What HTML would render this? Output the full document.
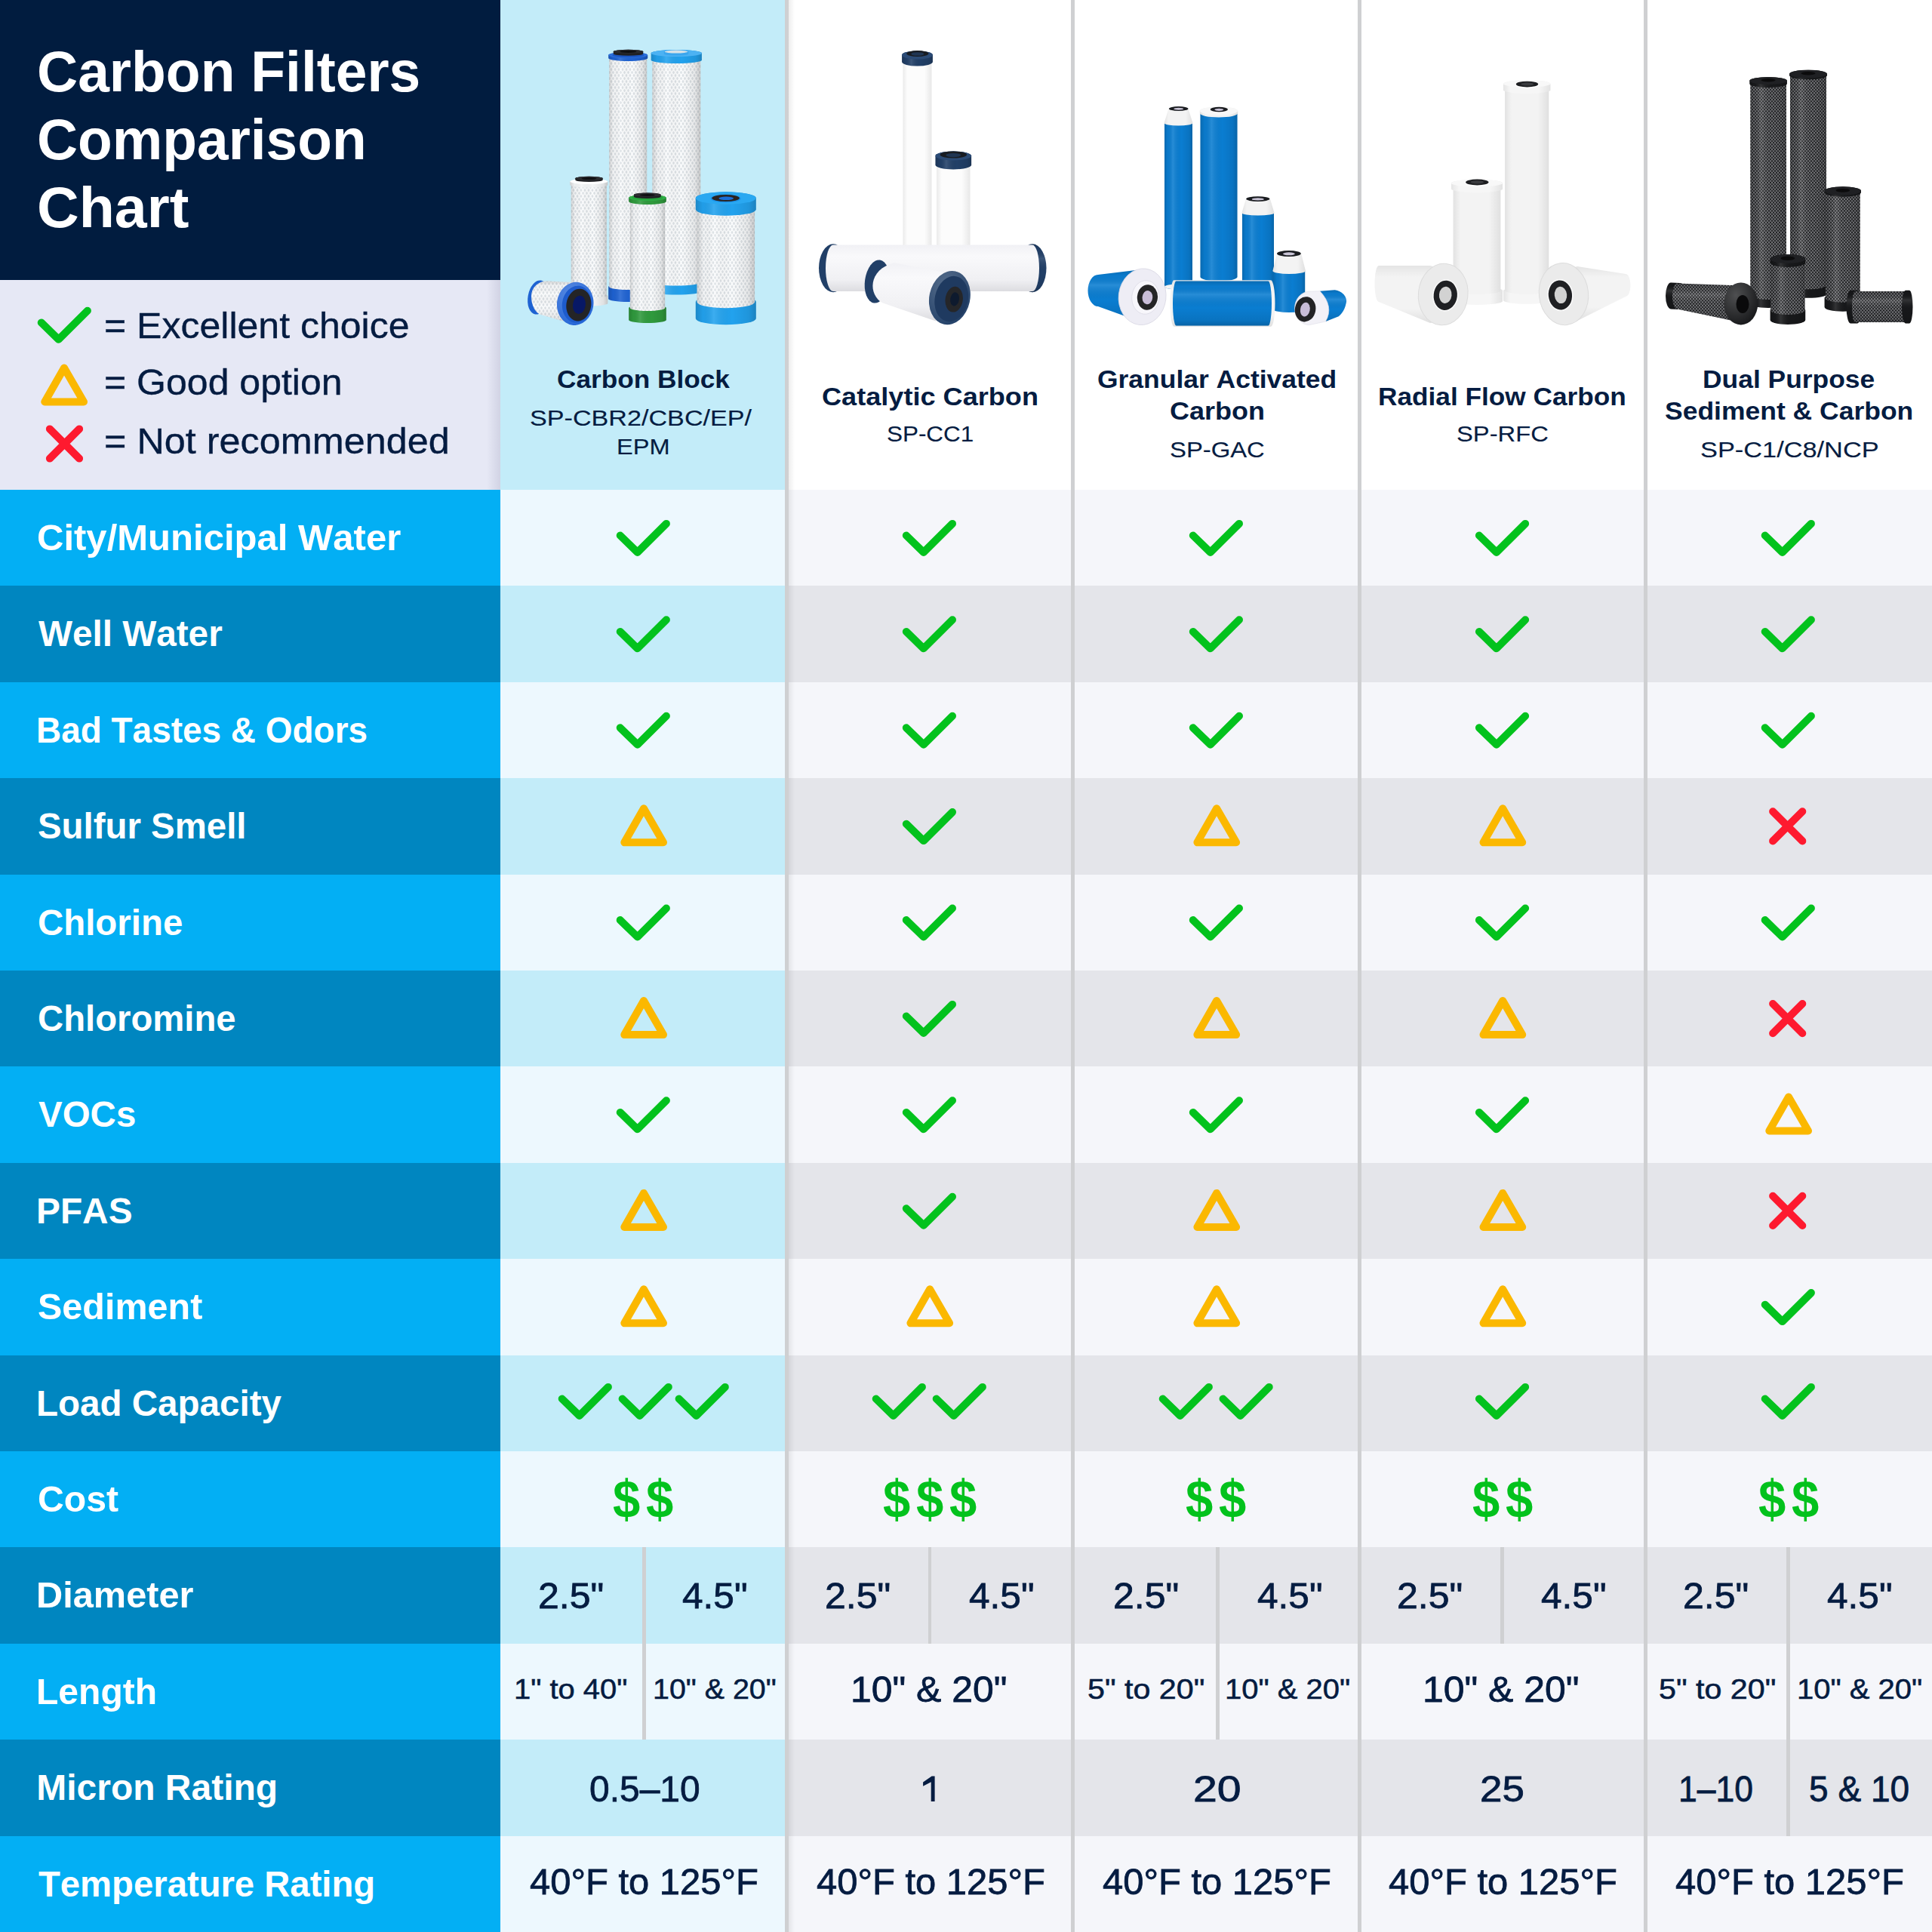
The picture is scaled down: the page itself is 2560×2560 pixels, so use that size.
<!DOCTYPE html>
<html><head><meta charset="utf-8"><title>Carbon Filters Comparison Chart</title>
<style>
html,body{margin:0;padding:0;}
body{width:2560px;height:2560px;position:relative;overflow:hidden;background:#fff;font-family:"Liberation Sans",sans-serif;}
.t{position:absolute;white-space:nowrap;font-kerning:none;font-variant-ligatures:none;}
</style></head><body>
<div style="position:absolute;left:0.00px;top:0.00px;width:663.00px;height:371.00px;background:#011c3f;"></div>
<div style="position:absolute;left:0.00px;top:371.00px;width:663.00px;height:278.00px;background:#e6e8f5;"></div>
<div style="position:absolute;left:663.00px;top:0.00px;width:1897.00px;height:649.00px;background:#ffffff;"></div>
<div style="position:absolute;left:663.00px;top:0.00px;width:379.40px;height:649.00px;background:#c3ecf9;"></div>
<div style="position:absolute;left:0.00px;top:649.00px;width:663.00px;height:127.40px;background:#03aff4;"></div>
<div style="position:absolute;left:663.00px;top:649.00px;width:379.40px;height:127.40px;background:#edf8fe;"></div>
<div style="position:absolute;left:1042.40px;top:649.00px;width:1517.60px;height:127.40px;background:#f5f6fa;"></div>
<div style="position:absolute;left:0.00px;top:776.40px;width:663.00px;height:127.40px;background:#0086c0;"></div>
<div style="position:absolute;left:663.00px;top:776.40px;width:379.40px;height:127.40px;background:#c3ecf9;"></div>
<div style="position:absolute;left:1042.40px;top:776.40px;width:1517.60px;height:127.40px;background:#e4e5ea;"></div>
<div style="position:absolute;left:0.00px;top:903.80px;width:663.00px;height:127.40px;background:#03aff4;"></div>
<div style="position:absolute;left:663.00px;top:903.80px;width:379.40px;height:127.40px;background:#edf8fe;"></div>
<div style="position:absolute;left:1042.40px;top:903.80px;width:1517.60px;height:127.40px;background:#f5f6fa;"></div>
<div style="position:absolute;left:0.00px;top:1031.20px;width:663.00px;height:127.40px;background:#0086c0;"></div>
<div style="position:absolute;left:663.00px;top:1031.20px;width:379.40px;height:127.40px;background:#c3ecf9;"></div>
<div style="position:absolute;left:1042.40px;top:1031.20px;width:1517.60px;height:127.40px;background:#e4e5ea;"></div>
<div style="position:absolute;left:0.00px;top:1158.60px;width:663.00px;height:127.40px;background:#03aff4;"></div>
<div style="position:absolute;left:663.00px;top:1158.60px;width:379.40px;height:127.40px;background:#edf8fe;"></div>
<div style="position:absolute;left:1042.40px;top:1158.60px;width:1517.60px;height:127.40px;background:#f5f6fa;"></div>
<div style="position:absolute;left:0.00px;top:1286.00px;width:663.00px;height:127.40px;background:#0086c0;"></div>
<div style="position:absolute;left:663.00px;top:1286.00px;width:379.40px;height:127.40px;background:#c3ecf9;"></div>
<div style="position:absolute;left:1042.40px;top:1286.00px;width:1517.60px;height:127.40px;background:#e4e5ea;"></div>
<div style="position:absolute;left:0.00px;top:1413.40px;width:663.00px;height:127.40px;background:#03aff4;"></div>
<div style="position:absolute;left:663.00px;top:1413.40px;width:379.40px;height:127.40px;background:#edf8fe;"></div>
<div style="position:absolute;left:1042.40px;top:1413.40px;width:1517.60px;height:127.40px;background:#f5f6fa;"></div>
<div style="position:absolute;left:0.00px;top:1540.80px;width:663.00px;height:127.40px;background:#0086c0;"></div>
<div style="position:absolute;left:663.00px;top:1540.80px;width:379.40px;height:127.40px;background:#c3ecf9;"></div>
<div style="position:absolute;left:1042.40px;top:1540.80px;width:1517.60px;height:127.40px;background:#e4e5ea;"></div>
<div style="position:absolute;left:0.00px;top:1668.20px;width:663.00px;height:127.40px;background:#03aff4;"></div>
<div style="position:absolute;left:663.00px;top:1668.20px;width:379.40px;height:127.40px;background:#edf8fe;"></div>
<div style="position:absolute;left:1042.40px;top:1668.20px;width:1517.60px;height:127.40px;background:#f5f6fa;"></div>
<div style="position:absolute;left:0.00px;top:1795.60px;width:663.00px;height:127.40px;background:#0086c0;"></div>
<div style="position:absolute;left:663.00px;top:1795.60px;width:379.40px;height:127.40px;background:#c3ecf9;"></div>
<div style="position:absolute;left:1042.40px;top:1795.60px;width:1517.60px;height:127.40px;background:#e4e5ea;"></div>
<div style="position:absolute;left:0.00px;top:1923.00px;width:663.00px;height:127.40px;background:#03aff4;"></div>
<div style="position:absolute;left:663.00px;top:1923.00px;width:379.40px;height:127.40px;background:#edf8fe;"></div>
<div style="position:absolute;left:1042.40px;top:1923.00px;width:1517.60px;height:127.40px;background:#f5f6fa;"></div>
<div style="position:absolute;left:0.00px;top:2050.40px;width:663.00px;height:127.40px;background:#0086c0;"></div>
<div style="position:absolute;left:663.00px;top:2050.40px;width:379.40px;height:127.40px;background:#c3ecf9;"></div>
<div style="position:absolute;left:1042.40px;top:2050.40px;width:1517.60px;height:127.40px;background:#e4e5ea;"></div>
<div style="position:absolute;left:0.00px;top:2177.80px;width:663.00px;height:127.40px;background:#03aff4;"></div>
<div style="position:absolute;left:663.00px;top:2177.80px;width:379.40px;height:127.40px;background:#edf8fe;"></div>
<div style="position:absolute;left:1042.40px;top:2177.80px;width:1517.60px;height:127.40px;background:#f5f6fa;"></div>
<div style="position:absolute;left:0.00px;top:2305.20px;width:663.00px;height:127.40px;background:#0086c0;"></div>
<div style="position:absolute;left:663.00px;top:2305.20px;width:379.40px;height:127.40px;background:#c3ecf9;"></div>
<div style="position:absolute;left:1042.40px;top:2305.20px;width:1517.60px;height:127.40px;background:#e4e5ea;"></div>
<div style="position:absolute;left:0.00px;top:2432.60px;width:663.00px;height:127.40px;background:#03aff4;"></div>
<div style="position:absolute;left:663.00px;top:2432.60px;width:379.40px;height:127.40px;background:#edf8fe;"></div>
<div style="position:absolute;left:1042.40px;top:2432.60px;width:1517.60px;height:127.40px;background:#f5f6fa;"></div>
<div style="position:absolute;left:1039.90px;top:0.00px;width:5.00px;height:2560.00px;background:#cfd0d2;"></div>
<div style="position:absolute;left:1419.30px;top:0.00px;width:5.00px;height:2560.00px;background:#cfd0d2;"></div>
<div style="position:absolute;left:1798.70px;top:0.00px;width:5.00px;height:2560.00px;background:#cfd0d2;"></div>
<div style="position:absolute;left:2178.10px;top:0.00px;width:5.00px;height:2560.00px;background:#cfd0d2;"></div>
<div style="position:absolute;left:645.00px;top:371.00px;width:18.00px;height:278.00px;background:linear-gradient(to right, rgba(40,40,90,0), rgba(40,40,90,0.11));"></div>
<div style="position:absolute;left:1044.90px;top:0.00px;width:8.50px;height:2560.00px;background:linear-gradient(to right, rgba(0,0,0,0.07), rgba(0,0,0,0));"></div>
<div style="position:absolute;left:851.20px;top:2050.40px;width:4.60px;height:254.80px;background:#cfd0d2;"></div>
<div style="position:absolute;left:1229.70px;top:2050.40px;width:4.60px;height:127.40px;background:#cfd0d2;"></div>
<div style="position:absolute;left:1611.10px;top:2050.40px;width:4.60px;height:254.80px;background:#cfd0d2;"></div>
<div style="position:absolute;left:1988.20px;top:2050.40px;width:4.60px;height:127.40px;background:#cfd0d2;"></div>
<div style="position:absolute;left:2367.00px;top:2050.40px;width:4.60px;height:382.20px;background:#cfd0d2;"></div>
<div class="t" style="left:48.92px;top:57.55px;font-size:75.29px;line-height:75.29px;font-weight:bold;color:#ffffff;transform:scaleX(0.9960);transform-origin:0 0;">Carbon Filters</div>
<div class="t" style="left:48.93px;top:147.95px;font-size:75.29px;line-height:75.29px;font-weight:bold;color:#ffffff;transform:scaleX(0.9942);transform-origin:0 0;">Comparison</div>
<div class="t" style="left:48.84px;top:238.35px;font-size:75.29px;line-height:75.29px;font-weight:bold;color:#ffffff;transform:scaleX(1.0244);transform-origin:0 0;">Chart</div>
<div class="t" style="left:137.56px;top:407.96px;font-size:47.53px;line-height:47.53px;font-weight:normal;color:#051c41;-webkit-text-stroke:0.35px #051c41;transform:scaleX(1.0527);transform-origin:0 0;">= Excellent choice</div>
<div class="t" style="left:137.56px;top:483.26px;font-size:47.53px;line-height:47.53px;font-weight:normal;color:#051c41;-webkit-text-stroke:0.35px #051c41;transform:scaleX(1.0525);transform-origin:0 0;">= Good option</div>
<div class="t" style="left:137.54px;top:560.96px;font-size:47.53px;line-height:47.53px;font-weight:normal;color:#051c41;-webkit-text-stroke:0.35px #051c41;transform:scaleX(1.0599);transform-origin:0 0;">= Not recommended</div>
<div class="t" style="left:49.49px;top:689.09px;font-size:47.97px;line-height:47.97px;font-weight:bold;color:#ffffff;transform:scaleX(1.0223);transform-origin:0 0;">City/Municipal Water</div>
<div class="t" style="left:51.45px;top:816.49px;font-size:47.97px;line-height:47.97px;font-weight:bold;color:#ffffff;transform:scaleX(0.9938);transform-origin:0 0;">Well Water</div>
<div class="t" style="left:48.43px;top:943.89px;font-size:47.97px;line-height:47.97px;font-weight:bold;color:#ffffff;transform:scaleX(0.9577);transform-origin:0 0;">Bad Tastes &amp; Odors</div>
<div class="t" style="left:50.13px;top:1071.29px;font-size:47.97px;line-height:47.97px;font-weight:bold;color:#ffffff;transform:scaleX(0.9881);transform-origin:0 0;">Sulfur Smell</div>
<div class="t" style="left:49.56px;top:1198.69px;font-size:47.97px;line-height:47.97px;font-weight:bold;color:#ffffff;transform:scaleX(0.9883);transform-origin:0 0;">Chlorine</div>
<div class="t" style="left:49.56px;top:1326.09px;font-size:47.97px;line-height:47.97px;font-weight:bold;color:#ffffff;transform:scaleX(0.9856);transform-origin:0 0;">Chloromine</div>
<div class="t" style="left:51.18px;top:1453.49px;font-size:47.97px;line-height:47.97px;font-weight:bold;color:#ffffff;transform:scaleX(0.9897);transform-origin:0 0;">VOCs</div>
<div class="t" style="left:48.30px;top:1580.89px;font-size:47.97px;line-height:47.97px;font-weight:bold;color:#ffffff;transform:scaleX(0.9972);transform-origin:0 0;">PFAS</div>
<div class="t" style="left:50.10px;top:1708.29px;font-size:47.97px;line-height:47.97px;font-weight:bold;color:#ffffff;transform:scaleX(1.0111);transform-origin:0 0;">Sediment</div>
<div class="t" style="left:48.32px;top:1835.69px;font-size:47.97px;line-height:47.97px;font-weight:bold;color:#ffffff;transform:scaleX(0.9911);transform-origin:0 0;">Load Capacity</div>
<div class="t" style="left:49.52px;top:1963.09px;font-size:47.97px;line-height:47.97px;font-weight:bold;color:#ffffff;transform:scaleX(1.0045);transform-origin:0 0;">Cost</div>
<div class="t" style="left:48.24px;top:2090.49px;font-size:47.97px;line-height:47.97px;font-weight:bold;color:#ffffff;transform:scaleX(1.0156);transform-origin:0 0;">Diameter</div>
<div class="t" style="left:48.29px;top:2217.89px;font-size:47.97px;line-height:47.97px;font-weight:bold;color:#ffffff;transform:scaleX(1.0015);transform-origin:0 0;">Length</div>
<div class="t" style="left:48.29px;top:2345.29px;font-size:47.97px;line-height:47.97px;font-weight:bold;color:#ffffff;">Micron Rating</div>
<div class="t" style="left:50.97px;top:2472.69px;font-size:47.97px;line-height:47.97px;font-weight:bold;color:#ffffff;transform:scaleX(0.9847);transform-origin:0 0;">Temperature Rating</div>
<div class="t" style="left:737.56px;top:485.72px;font-size:33.87px;line-height:33.87px;font-weight:bold;color:#051c41;transform:scaleX(1.0397);transform-origin:0 0;">Carbon Block</div>
<div class="t" style="left:702.45px;top:538.52px;font-size:30.09px;line-height:30.09px;font-weight:normal;color:#051c41;-webkit-text-stroke:0.15px #051c41;transform:scaleX(1.1350);transform-origin:0 0;">SP-CBR2/CBC/EP/</div>
<div class="t" style="left:817.03px;top:577.32px;font-size:30.09px;line-height:30.09px;font-weight:normal;color:#051c41;-webkit-text-stroke:0.15px #051c41;transform:scaleX(1.0836);transform-origin:0 0;">EPM</div>
<div class="t" style="left:1088.52px;top:508.72px;font-size:33.87px;line-height:33.87px;font-weight:bold;color:#051c41;transform:scaleX(1.0665);transform-origin:0 0;">Catalytic Carbon</div>
<div class="t" style="left:1174.57px;top:560.42px;font-size:30.09px;line-height:30.09px;font-weight:normal;color:#051c41;-webkit-text-stroke:0.15px #051c41;transform:scaleX(1.0445);transform-origin:0 0;">SP-CC1</div>
<div class="t" style="left:1453.55px;top:485.62px;font-size:33.87px;line-height:33.87px;font-weight:bold;color:#051c41;transform:scaleX(1.0468);transform-origin:0 0;">Granular Activated</div>
<div class="t" style="left:1549.62px;top:528.42px;font-size:33.87px;line-height:33.87px;font-weight:bold;color:#051c41;transform:scaleX(1.0639);transform-origin:0 0;">Carbon</div>
<div class="t" style="left:1549.61px;top:580.72px;font-size:30.09px;line-height:30.09px;font-weight:normal;color:#051c41;-webkit-text-stroke:0.15px #051c41;transform:scaleX(1.0909);transform-origin:0 0;">SP-GAC</div>
<div class="t" style="left:1826.44px;top:508.62px;font-size:33.87px;line-height:33.87px;font-weight:bold;color:#051c41;transform:scaleX(1.0403);transform-origin:0 0;">Radial Flow Carbon</div>
<div class="t" style="left:1929.61px;top:560.42px;font-size:30.09px;line-height:30.09px;font-weight:normal;color:#051c41;-webkit-text-stroke:0.15px #051c41;transform:scaleX(1.0879);transform-origin:0 0;">SP-RFC</div>
<div class="t" style="left:2256.03px;top:485.82px;font-size:33.87px;line-height:33.87px;font-weight:bold;color:#051c41;transform:scaleX(1.0457);transform-origin:0 0;">Dual Purpose</div>
<div class="t" style="left:2205.98px;top:528.12px;font-size:33.87px;line-height:33.87px;font-weight:bold;color:#051c41;transform:scaleX(1.0480);transform-origin:0 0;">Sediment &amp; Carbon</div>
<div class="t" style="left:2252.64px;top:580.92px;font-size:30.09px;line-height:30.09px;font-weight:normal;color:#051c41;-webkit-text-stroke:0.15px #051c41;transform:scaleX(1.1416);transform-origin:0 0;">SP-C1/C8/NCP</div>
<div class="t" style="left:712.99px;top:2091.06px;font-size:47.53px;line-height:47.53px;font-weight:normal;color:#051c41;-webkit-text-stroke:0.80px #051c41;transform:scaleX(1.0518);transform-origin:0 0;">2.5"</div>
<div class="t" style="left:903.61px;top:2091.06px;font-size:47.53px;line-height:47.53px;font-weight:normal;color:#051c41;-webkit-text-stroke:0.80px #051c41;transform:scaleX(1.0434);transform-origin:0 0;">4.5"</div>
<div class="t" style="left:1093.19px;top:2091.06px;font-size:47.53px;line-height:47.53px;font-weight:normal;color:#051c41;-webkit-text-stroke:0.80px #051c41;transform:scaleX(1.0518);transform-origin:0 0;">2.5"</div>
<div class="t" style="left:1283.71px;top:2091.06px;font-size:47.53px;line-height:47.53px;font-weight:normal;color:#051c41;-webkit-text-stroke:0.80px #051c41;transform:scaleX(1.0434);transform-origin:0 0;">4.5"</div>
<div class="t" style="left:1474.99px;top:2091.06px;font-size:47.53px;line-height:47.53px;font-weight:normal;color:#051c41;-webkit-text-stroke:0.80px #051c41;transform:scaleX(1.0518);transform-origin:0 0;">2.5"</div>
<div class="t" style="left:1666.31px;top:2091.06px;font-size:47.53px;line-height:47.53px;font-weight:normal;color:#051c41;-webkit-text-stroke:0.80px #051c41;transform:scaleX(1.0434);transform-origin:0 0;">4.5"</div>
<div class="t" style="left:1851.49px;top:2091.06px;font-size:47.53px;line-height:47.53px;font-weight:normal;color:#051c41;-webkit-text-stroke:0.80px #051c41;transform:scaleX(1.0518);transform-origin:0 0;">2.5"</div>
<div class="t" style="left:2042.41px;top:2091.06px;font-size:47.53px;line-height:47.53px;font-weight:normal;color:#051c41;-webkit-text-stroke:0.80px #051c41;transform:scaleX(1.0434);transform-origin:0 0;">4.5"</div>
<div class="t" style="left:2230.19px;top:2091.06px;font-size:47.53px;line-height:47.53px;font-weight:normal;color:#051c41;-webkit-text-stroke:0.80px #051c41;transform:scaleX(1.0518);transform-origin:0 0;">2.5"</div>
<div class="t" style="left:2421.41px;top:2091.06px;font-size:47.53px;line-height:47.53px;font-weight:normal;color:#051c41;-webkit-text-stroke:0.80px #051c41;transform:scaleX(1.0434);transform-origin:0 0;">4.5"</div>
<div class="t" style="left:681.26px;top:2219.67px;font-size:37.36px;line-height:37.36px;font-weight:normal;color:#051c41;-webkit-text-stroke:0.55px #051c41;transform:scaleX(1.0688);transform-origin:0 0;">1" to 40"</div>
<div class="t" style="left:864.80px;top:2219.67px;font-size:37.36px;line-height:37.36px;font-weight:normal;color:#051c41;-webkit-text-stroke:0.55px #051c41;transform:scaleX(1.0539);transform-origin:0 0;">10" &amp; 20"</div>
<div class="t" style="left:1126.70px;top:2214.15px;font-size:48.84px;line-height:48.84px;font-weight:normal;color:#051c41;-webkit-text-stroke:0.80px #051c41;transform:scaleX(1.0216);transform-origin:0 0;">10" &amp; 20"</div>
<div class="t" style="left:1440.85px;top:2219.67px;font-size:37.36px;line-height:37.36px;font-weight:normal;color:#051c41;-webkit-text-stroke:0.55px #051c41;transform:scaleX(1.1033);transform-origin:0 0;">5" to 20"</div>
<div class="t" style="left:1622.75px;top:2219.67px;font-size:37.36px;line-height:37.36px;font-weight:normal;color:#051c41;-webkit-text-stroke:0.55px #051c41;transform:scaleX(1.0705);transform-origin:0 0;">10" &amp; 20"</div>
<div class="t" style="left:1885.45px;top:2214.15px;font-size:48.84px;line-height:48.84px;font-weight:normal;color:#051c41;-webkit-text-stroke:0.80px #051c41;transform:scaleX(1.0216);transform-origin:0 0;">10" &amp; 20"</div>
<div class="t" style="left:2198.40px;top:2219.67px;font-size:37.36px;line-height:37.36px;font-weight:normal;color:#051c41;-webkit-text-stroke:0.55px #051c41;transform:scaleX(1.1033);transform-origin:0 0;">5" to 20"</div>
<div class="t" style="left:2380.50px;top:2219.67px;font-size:37.36px;line-height:37.36px;font-weight:normal;color:#051c41;-webkit-text-stroke:0.55px #051c41;transform:scaleX(1.0705);transform-origin:0 0;">10" &amp; 20"</div>
<div class="t" style="left:781.13px;top:2346.27px;font-size:48.69px;line-height:48.69px;font-weight:normal;color:#051c41;-webkit-text-stroke:0.80px #051c41;transform:scaleX(0.9847);transform-origin:0 0;">0.5–10</div>
<div class="t" style="left:1580.92px;top:2346.27px;font-size:48.69px;line-height:48.69px;font-weight:normal;color:#051c41;-webkit-text-stroke:0.80px #051c41;transform:scaleX(1.1765);transform-origin:0 0;">20</div>
<div class="t" style="left:1961.04px;top:2346.27px;font-size:48.69px;line-height:48.69px;font-weight:normal;color:#051c41;-webkit-text-stroke:0.80px #051c41;transform:scaleX(1.0872);transform-origin:0 0;">25</div>
<div class="t" style="left:2223.81px;top:2346.27px;font-size:48.69px;line-height:48.69px;font-weight:normal;color:#051c41;-webkit-text-stroke:0.80px #051c41;transform:scaleX(0.9132);transform-origin:0 0;">1–10</div>
<div class="t" style="left:2397.46px;top:2346.27px;font-size:48.69px;line-height:48.69px;font-weight:normal;color:#051c41;-webkit-text-stroke:0.80px #051c41;transform:scaleX(0.9458);transform-origin:0 0;">5 &amp; 10</div>
<div class="t" style="left:702.23px;top:2469.89px;font-size:47.97px;line-height:47.97px;font-weight:normal;color:#051c41;-webkit-text-stroke:0.80px #051c41;transform:scaleX(1.0195);transform-origin:0 0;">40°F to 125°F</div>
<div class="t" style="left:1081.63px;top:2469.89px;font-size:47.97px;line-height:47.97px;font-weight:normal;color:#051c41;-webkit-text-stroke:0.80px #051c41;transform:scaleX(1.0195);transform-origin:0 0;">40°F to 125°F</div>
<div class="t" style="left:1461.03px;top:2469.89px;font-size:47.97px;line-height:47.97px;font-weight:normal;color:#051c41;-webkit-text-stroke:0.80px #051c41;transform:scaleX(1.0195);transform-origin:0 0;">40°F to 125°F</div>
<div class="t" style="left:1840.43px;top:2469.89px;font-size:47.97px;line-height:47.97px;font-weight:normal;color:#051c41;-webkit-text-stroke:0.80px #051c41;transform:scaleX(1.0195);transform-origin:0 0;">40°F to 125°F</div>
<div class="t" style="left:2219.83px;top:2469.89px;font-size:47.97px;line-height:47.97px;font-weight:normal;color:#051c41;-webkit-text-stroke:0.80px #051c41;transform:scaleX(1.0195);transform-origin:0 0;">40°F to 125°F</div>
<div class="t" style="left:811.99px;top:1952.13px;font-size:70.35px;line-height:70.35px;font-weight:bold;color:#03c21d;transform:scaleX(0.9274);transform-origin:0 0;">$</div>
<div class="t" style="left:856.19px;top:1952.13px;font-size:70.35px;line-height:70.35px;font-weight:bold;color:#03c21d;transform:scaleX(0.9274);transform-origin:0 0;">$</div>
<div class="t" style="left:1169.79px;top:1952.13px;font-size:70.35px;line-height:70.35px;font-weight:bold;color:#03c21d;transform:scaleX(0.9274);transform-origin:0 0;">$</div>
<div class="t" style="left:1213.99px;top:1952.13px;font-size:70.35px;line-height:70.35px;font-weight:bold;color:#03c21d;transform:scaleX(0.9274);transform-origin:0 0;">$</div>
<div class="t" style="left:1258.19px;top:1952.13px;font-size:70.35px;line-height:70.35px;font-weight:bold;color:#03c21d;transform:scaleX(0.9274);transform-origin:0 0;">$</div>
<div class="t" style="left:1571.29px;top:1952.13px;font-size:70.35px;line-height:70.35px;font-weight:bold;color:#03c21d;transform:scaleX(0.9274);transform-origin:0 0;">$</div>
<div class="t" style="left:1615.49px;top:1952.13px;font-size:70.35px;line-height:70.35px;font-weight:bold;color:#03c21d;transform:scaleX(0.9274);transform-origin:0 0;">$</div>
<div class="t" style="left:1950.69px;top:1952.13px;font-size:70.35px;line-height:70.35px;font-weight:bold;color:#03c21d;transform:scaleX(0.9274);transform-origin:0 0;">$</div>
<div class="t" style="left:1994.89px;top:1952.13px;font-size:70.35px;line-height:70.35px;font-weight:bold;color:#03c21d;transform:scaleX(0.9274);transform-origin:0 0;">$</div>
<div class="t" style="left:2330.09px;top:1952.13px;font-size:70.35px;line-height:70.35px;font-weight:bold;color:#03c21d;transform:scaleX(0.9274);transform-origin:0 0;">$</div>
<div class="t" style="left:2374.29px;top:1952.13px;font-size:70.35px;line-height:70.35px;font-weight:bold;color:#03c21d;transform:scaleX(0.9274);transform-origin:0 0;">$</div>
<svg width="2560" height="2560" viewBox="0 0 2560 2560" style="position:absolute;left:0;top:0"><defs>
<pattern id="meshW" width="5" height="8" patternUnits="userSpaceOnUse">
<rect width="5" height="8" fill="#dce1e5"/>
<path d="M0 0L2.5 4L0 8M5 0L2.5 4L5 8" stroke="#fbfcfd" stroke-width="1.7" fill="none"/>
</pattern>
<pattern id="meshD" width="4" height="4.4" patternUnits="userSpaceOnUse">
<rect width="4" height="4.4" fill="#1d1e20"/>
<path d="M0 0L2 2.2L0 4.4M4 0L2 2.2L4 4.4" stroke="#8c8d91" stroke-width="0.85" fill="none"/>
</pattern>
<linearGradient id="shV" x1="0" y1="0" x2="1" y2="0">
<stop offset="0" stop-color="#000" stop-opacity="0.16"/>
<stop offset="0.12" stop-color="#000" stop-opacity="0.03"/>
<stop offset="0.3" stop-color="#fff" stop-opacity="0.12"/>
<stop offset="0.6" stop-color="#000" stop-opacity="0"/>
<stop offset="0.88" stop-color="#000" stop-opacity="0.08"/>
<stop offset="1" stop-color="#000" stop-opacity="0.2"/>
</linearGradient>
<linearGradient id="shH" x1="0" y1="0" x2="0" y2="1">
<stop offset="0" stop-color="#000" stop-opacity="0.14"/>
<stop offset="0.12" stop-color="#000" stop-opacity="0.02"/>
<stop offset="0.3" stop-color="#fff" stop-opacity="0.12"/>
<stop offset="0.6" stop-color="#000" stop-opacity="0"/>
<stop offset="0.88" stop-color="#000" stop-opacity="0.08"/>
<stop offset="1" stop-color="#000" stop-opacity="0.2"/>
</linearGradient>
<linearGradient id="shW" x1="0" y1="0" x2="1" y2="0">
<stop offset="0" stop-color="#000" stop-opacity="0.07"/>
<stop offset="0.15" stop-color="#000" stop-opacity="0.0"/>
<stop offset="0.75" stop-color="#000" stop-opacity="0.0"/>
<stop offset="1" stop-color="#000" stop-opacity="0.08"/>
</linearGradient>
<linearGradient id="shWH" x1="0" y1="0" x2="0" y2="1">
<stop offset="0" stop-color="#000" stop-opacity="0.06"/>
<stop offset="0.2" stop-color="#000" stop-opacity="0.0"/>
<stop offset="0.75" stop-color="#000" stop-opacity="0.0"/>
<stop offset="1" stop-color="#000" stop-opacity="0.08"/>
</linearGradient>
<linearGradient id="gWH" x1="0" y1="0" x2="0" y2="1">
<stop offset="0" stop-color="#f1f1f5"/>
<stop offset="0.25" stop-color="#f9f9fb"/>
<stop offset="0.75" stop-color="#f0f0f3"/>
<stop offset="1" stop-color="#dcdce0"/>
</linearGradient>
<radialGradient id="faceHi" cx="0.35" cy="0.3" r="0.8">
<stop offset="0" stop-color="#fff" stop-opacity="0.25"/>
<stop offset="1" stop-color="#fff" stop-opacity="0"/>
</radialGradient>
</defs><path d="M806.2 380L806.2 396A26 4 0 0 0 858.2 396L858.2 380A26 4 0 0 0 806.2 380Z" fill="#1e62d2"/><path d="M806.2 380L806.2 396A26 4 0 0 0 858.2 396L858.2 380A26 4 0 0 0 806.2 380Z" fill="url(#shV)"/><path d="M807.2 77L807.2 380A25 4 0 0 0 857.2 380L857.2 77A25 4 0 0 0 807.2 77Z" fill="url(#meshW)"/><path d="M807.2 77L807.2 380A25 4 0 0 0 857.2 380L857.2 77A25 4 0 0 0 807.2 77Z" fill="url(#shV)"/><path d="M806.2 73L806.2 77A26 4 0 0 0 858.2 77L858.2 73A26 4 0 0 0 806.2 73Z" fill="#1e62d2"/><path d="M806.2 73L806.2 77A26 4 0 0 0 858.2 77L858.2 73A26 4 0 0 0 806.2 73Z" fill="url(#shV)"/><ellipse cx="832.2" cy="73" rx="26" ry="4" fill="#2a6fdc"/><ellipse cx="832.4" cy="73" rx="21" ry="3.2" fill="#1c57c4"/><path d="M812.8 68.2L812.8 71.2A19.7 2.5 0 0 0 852.2 71.2L852.2 68.2A19.7 2.5 0 0 0 812.8 68.2Z" fill="#202124"/><ellipse cx="832.5" cy="68.2" rx="19.7" ry="2.5" fill="#2b2c30"/><ellipse cx="832.5" cy="68.4" rx="11" ry="1.5" fill="#0e0f12"/><path d="M862.7 374L862.7 386A33.6 4.6 0 0 0 929.9 386L929.9 374A33.6 4.6 0 0 0 862.7 374Z" fill="#22a2ee"/><path d="M862.7 374L862.7 386A33.6 4.6 0 0 0 929.9 386L929.9 374A33.6 4.6 0 0 0 862.7 374Z" fill="url(#shV)"/><path d="M864.3 79.4L864.3 374A32 4.6 0 0 0 928.3 374L928.3 79.4A32 4.6 0 0 0 864.3 79.4Z" fill="url(#meshW)"/><path d="M864.3 79.4L864.3 374A32 4.6 0 0 0 928.3 374L928.3 79.4A32 4.6 0 0 0 864.3 79.4Z" fill="url(#shV)"/><path d="M862.7 70.5L862.7 79.4A33.6 4.6 0 0 0 929.9 79.4L929.9 70.5A33.6 4.6 0 0 0 862.7 70.5Z" fill="#22a2ee"/><path d="M862.7 70.5L862.7 79.4A33.6 4.6 0 0 0 929.9 79.4L929.9 70.5A33.6 4.6 0 0 0 862.7 70.5Z" fill="url(#shV)"/><ellipse cx="896.3" cy="70.5" rx="33.6" ry="4.6" fill="#4cb2f3"/><path d="M879.8 68.6L879.8 71.5A16.2 2.1 0 0 0 912.2 71.5L912.2 68.6A16.2 2.1 0 0 0 879.8 68.6Z" fill="#3aa6ee"/><ellipse cx="896" cy="68.6" rx="15.2" ry="2" fill="#d6e2e8"/><path d="M755.3 392L755.3 402A25 3.5 0 0 0 805.3 402L805.3 392A25 3.5 0 0 0 755.3 392Z" fill="#f4f6f7"/><path d="M755.3 392L755.3 402A25 3.5 0 0 0 805.3 402L805.3 392A25 3.5 0 0 0 755.3 392Z" fill="url(#shV)"/><path d="M756.7 245L756.7 392A23.6 3.5 0 0 0 803.9 392L803.9 245A23.6 3.5 0 0 0 756.7 245Z" fill="url(#meshW)"/><path d="M756.7 245L756.7 392A23.6 3.5 0 0 0 803.9 392L803.9 245A23.6 3.5 0 0 0 756.7 245Z" fill="url(#shV)"/><path d="M755.3 240.5L755.3 245A25 3.5 0 0 0 805.3 245L805.3 240.5A25 3.5 0 0 0 755.3 240.5Z" fill="#f4f6f7"/><path d="M755.3 240.5L755.3 245A25 3.5 0 0 0 805.3 245L805.3 240.5A25 3.5 0 0 0 755.3 240.5Z" fill="url(#shV)"/><ellipse cx="780.3" cy="240.5" rx="25" ry="3.5" fill="#ffffff"/><path d="M762.3 236.3L762.3 238.5A18.2 2.6 0 0 0 798.7 238.5L798.7 236.3A18.2 2.6 0 0 0 762.3 236.3Z" fill="#1e1f22"/><ellipse cx="780.5" cy="236.3" rx="18.2" ry="2.6" fill="#2c2d31"/><ellipse cx="780.5" cy="236.6" rx="10" ry="1.5" fill="#0e0f12"/><path d="M833.2 408L833.2 424A24.8 4 0 0 0 882.8 424L882.8 408A24.8 4 0 0 0 833.2 408Z" fill="#2f9a3d"/><path d="M833.2 408L833.2 424A24.8 4 0 0 0 882.8 424L882.8 408A24.8 4 0 0 0 833.2 408Z" fill="url(#shV)"/><path d="M834.8 267L834.8 408A23.2 4 0 0 0 881.2 408L881.2 267A23.2 4 0 0 0 834.8 267Z" fill="url(#meshW)"/><path d="M834.8 267L834.8 408A23.2 4 0 0 0 881.2 408L881.2 267A23.2 4 0 0 0 834.8 267Z" fill="url(#shV)"/><path d="M833.2 262L833.2 267A24.8 4 0 0 0 882.8 267L882.8 262A24.8 4 0 0 0 833.2 262Z" fill="#2f9a3d"/><path d="M833.2 262L833.2 267A24.8 4 0 0 0 882.8 267L882.8 262A24.8 4 0 0 0 833.2 262Z" fill="url(#shV)"/><ellipse cx="858" cy="262" rx="24.8" ry="4" fill="#2fae46"/><ellipse cx="858" cy="262" rx="20.5" ry="3.2" fill="#25a23c"/><path d="M839.9 258.2L839.9 260.5A17.9 2.6 0 0 0 875.7 260.5L875.7 258.2A17.9 2.6 0 0 0 839.9 258.2Z" fill="#1e1f22"/><ellipse cx="857.8" cy="258.2" rx="17.9" ry="2.6" fill="#2c2d31"/><ellipse cx="857.8" cy="258.5" rx="10" ry="1.5" fill="#0e0f12"/><path d="M921.8 400L921.8 422A40 8.2 0 0 0 1001.8 422L1001.8 400A40 8.2 0 0 0 921.8 400Z" fill="#22a2ee"/><path d="M921.8 400L921.8 422A40 8.2 0 0 0 1001.8 422L1001.8 400A40 8.2 0 0 0 921.8 400Z" fill="url(#shV)"/><path d="M923.5 277.5L923.5 400A38.3 8.2 0 0 0 1000.1 400L1000.1 277.5A38.3 8.2 0 0 0 923.5 277.5Z" fill="url(#meshW)"/><path d="M923.5 277.5L923.5 400A38.3 8.2 0 0 0 1000.1 400L1000.1 277.5A38.3 8.2 0 0 0 923.5 277.5Z" fill="url(#shV)"/><path d="M921.8 262.5L921.8 277.5A40 8.2 0 0 0 1001.8 277.5L1001.8 262.5A40 8.2 0 0 0 921.8 262.5Z" fill="#22a2ee"/><path d="M921.8 262.5L921.8 277.5A40 8.2 0 0 0 1001.8 277.5L1001.8 262.5A40 8.2 0 0 0 921.8 262.5Z" fill="url(#shV)"/><ellipse cx="961.8" cy="262.5" rx="40" ry="8.2" fill="#2aa8f1"/><ellipse cx="961.6" cy="263" rx="20" ry="5.4" fill="#1b8fe6"/><ellipse cx="961.6" cy="262.5" rx="18.2" ry="4.6" fill="#2a2422"/><ellipse cx="962.2" cy="262.8" rx="9.8" ry="2.3" fill="#1a6ed8"/><g transform="rotate(10 713 394)"><ellipse cx="713" cy="394" rx="13.5" ry="22.8" fill="#1e62d2"/></g><path d="M726.4 372.5L758 374L758 428L742.4 424.4L715 416.6C707 412 702.5 399 704.5 388C707 378 715 372 726.4 372.5Z" fill="url(#meshW)"/><path d="M726.4 372.5L758 374L758 428L742.4 424.4L715 416.6C707 412 702.5 399 704.5 388C707 378 715 372 726.4 372.5Z" fill="url(#shH)"/><g transform="rotate(8 762.2 402.4)"><ellipse cx="762.2" cy="402.4" rx="24.2" ry="28.6" fill="#2264d6"/><ellipse cx="762.2" cy="402.4" rx="24.2" ry="28.6" fill="url(#faceHi)"/><ellipse cx="764.5" cy="402.8" rx="19.5" ry="24.5" fill="#1d5bcc"/><ellipse cx="767" cy="403.4" rx="16.4" ry="21.5" fill="#242426"/><ellipse cx="767.6" cy="403.1" rx="8.4" ry="12.1" fill="#071866"/></g><path d="M1196.5 82L1196.5 332A19 5.5 0 0 0 1234.5 332L1234.5 82A19 5.5 0 0 0 1196.5 82Z" fill="#fcfcfc"/><path d="M1196.5 82L1196.5 332A19 5.5 0 0 0 1234.5 332L1234.5 82A19 5.5 0 0 0 1196.5 82Z" fill="url(#shW)"/><path d="M1195.1 73L1195.1 82A20.4 5.5 0 0 0 1235.9 82L1235.9 73A20.4 5.5 0 0 0 1195.1 73Z" fill="#213f67"/><path d="M1195.1 73L1195.1 82A20.4 5.5 0 0 0 1235.9 82L1235.9 73A20.4 5.5 0 0 0 1195.1 73Z" fill="url(#shV)"/><ellipse cx="1215.5" cy="73" rx="20.4" ry="5.5" fill="#2b4b76"/><ellipse cx="1215.8" cy="71" rx="14.6" ry="4" fill="#181c22"/><ellipse cx="1215.8" cy="71.5" rx="8.5" ry="2.3" fill="#1f3553"/><path d="M1241.1 218.5L1241.1 332A22.2 6 0 0 0 1285.5 332L1285.5 218.5A22.2 6 0 0 0 1241.1 218.5Z" fill="#fcfcfc"/><path d="M1241.1 218.5L1241.1 332A22.2 6 0 0 0 1285.5 332L1285.5 218.5A22.2 6 0 0 0 1241.1 218.5Z" fill="url(#shW)"/><path d="M1239.5 206.5L1239.5 218.5A23.8 6 0 0 0 1287.1 218.5L1287.1 206.5A23.8 6 0 0 0 1239.5 206.5Z" fill="#213f67"/><path d="M1239.5 206.5L1239.5 218.5A23.8 6 0 0 0 1287.1 218.5L1287.1 206.5A23.8 6 0 0 0 1239.5 206.5Z" fill="url(#shV)"/><ellipse cx="1263.3" cy="206.5" rx="23.8" ry="6" fill="#2b4b76"/><ellipse cx="1263.3" cy="205" rx="17.7" ry="4.6" fill="#181c22"/><ellipse cx="1263.3" cy="205.6" rx="10" ry="2.6" fill="#1f3553"/><ellipse cx="1104" cy="355.3" rx="19" ry="32" fill="#213f67"/><ellipse cx="1368" cy="355.3" rx="18.5" ry="32" fill="#213f67"/><ellipse cx="1368" cy="355.3" rx="18.5" ry="32" fill="url(#shH)"/><path d="M1104 324.6L1368 324.6A9 30.7 0 0 1 1368 386L1104 386A10 30.7 0 0 1 1104 324.6Z" fill="url(#gWH)"/><g transform="rotate(8 1162 373)"><ellipse cx="1162" cy="373" rx="16" ry="28.8" fill="#213f67"/></g><path d="M1184.7 348.2L1250 360.5L1240 425.5L1169.8 401.6C1150 391 1150 357 1184.7 348.2Z" fill="url(#gWH)"/><g transform="rotate(12 1258.4 394.6)"><ellipse cx="1258.4" cy="394.6" rx="27" ry="36" fill="#213f67"/><ellipse cx="1258.4" cy="394.6" rx="27" ry="36" fill="url(#faceHi)"/><ellipse cx="1261" cy="395.5" rx="22" ry="30.5" fill="#1f3a60"/></g><g transform="rotate(8 1264.2 396.7)"><ellipse cx="1264.2" cy="396.7" rx="11.6" ry="17" fill="#252629"/><ellipse cx="1265" cy="396.3" rx="5.8" ry="9.1" fill="#0e1a2e"/></g><path d="M1543 163L1543 380A18.5 3.5 0 0 0 1580 380L1580 163A18.5 3.5 0 0 0 1543 163Z" fill="#0a7dd1"/><path d="M1543 163L1543 380A18.5 3.5 0 0 0 1580 380L1580 163A18.5 3.5 0 0 0 1543 163Z" fill="url(#shV)"/><ellipse cx="1561.5" cy="380" rx="18.5" ry="3.5" fill="#f3f3f3"/><path d="M1548.5 144L1542.5 163A19 3.5 0 0 0 1580.5 163L1574.5 144A13 3 0 0 0 1548.5 144Z" fill="#f3f3f3"/><path d="M1548.5 144L1542.5 163A19 3.5 0 0 0 1580.5 163L1574.5 144A13 3 0 0 0 1548.5 144Z" fill="url(#shW)"/><ellipse cx="1561.7" cy="144" rx="12.8" ry="3" fill="#1a1c20"/><ellipse cx="1561.7" cy="144.3" rx="6.5" ry="1.5" fill="#c9c4d6"/><path d="M1590.5 150L1590.5 367A24.5 5.5 0 0 0 1639.5 367L1639.5 150A24.5 5.5 0 0 0 1590.5 150Z" fill="#0a7dd1"/><path d="M1590.5 150L1590.5 367A24.5 5.5 0 0 0 1639.5 367L1639.5 150A24.5 5.5 0 0 0 1590.5 150Z" fill="url(#shV)"/><path d="M1589.8 147L1589.8 150A25.2 5.5 0 0 0 1640.2 150L1640.2 147A25.2 5.5 0 0 0 1589.8 147Z" fill="#f3f3f3"/><path d="M1589.8 147L1589.8 150A25.2 5.5 0 0 0 1640.2 150L1640.2 147A25.2 5.5 0 0 0 1589.8 147Z" fill="url(#shW)"/><ellipse cx="1615" cy="147" rx="25.2" ry="5.5" fill="#f7f7f7"/><ellipse cx="1615.3" cy="145" rx="11.7" ry="3.2" fill="#1a1c20"/><ellipse cx="1615.3" cy="145.3" rx="6" ry="1.6" fill="#c9c4d6"/><path d="M1646 282L1646 392A21 3.6 0 0 0 1688 392L1688 282A21 3.6 0 0 0 1646 282Z" fill="#0a7dd1"/><path d="M1646 282L1646 392A21 3.6 0 0 0 1688 392L1688 282A21 3.6 0 0 0 1646 282Z" fill="url(#shV)"/><path d="M1651 263.5L1645.5 282A21.5 3.6 0 0 0 1688.5 282L1683 263.5A16 3.2 0 0 0 1651 263.5Z" fill="#f3f3f3"/><path d="M1651 263.5L1645.5 282A21.5 3.6 0 0 0 1688.5 282L1683 263.5A16 3.2 0 0 0 1651 263.5Z" fill="url(#shW)"/><ellipse cx="1666.8" cy="263.6" rx="15.6" ry="3.3" fill="#1a1c20"/><ellipse cx="1666.8" cy="263.9" rx="8" ry="1.7" fill="#c9c4d6"/><path d="M1687.2 359L1687.2 410A21 4 0 0 0 1729.2 410L1729.2 359A21 4 0 0 0 1687.2 359Z" fill="#0a7dd1"/><path d="M1687.2 359L1687.2 410A21 4 0 0 0 1729.2 410L1729.2 359A21 4 0 0 0 1687.2 359Z" fill="url(#shV)"/><path d="M1692.2 336L1686.4 359A21.8 4 0 0 0 1730 359L1724.2 336A16 4 0 0 0 1692.2 336Z" fill="#f3f3f3"/><path d="M1692.2 336L1686.4 359A21.8 4 0 0 0 1730 359L1724.2 336A16 4 0 0 0 1692.2 336Z" fill="url(#shW)"/><ellipse cx="1707.9" cy="336" rx="15.9" ry="4" fill="#1a1c20"/><ellipse cx="1707.9" cy="336.3" rx="8" ry="2" fill="#c9c4d6"/><path d="M1555.5 371.3L1684 371.3A5.5 30.7 0 0 1 1684 432.7L1555.5 432.7A5 30.7 0 0 1 1555.5 371.3Z" fill="#f3f3f3"/><path d="M1555.5 371.3L1684 371.3A5.5 30.7 0 0 1 1684 432.7L1555.5 432.7A5 30.7 0 0 1 1555.5 371.3Z" fill="url(#shWH)"/><path d="M1558.5 372.5L1680.5 372.5A4.5 29.5 0 0 1 1680.5 431.5L1558.5 431.5A4.5 29.5 0 0 1 1558.5 372.5Z" fill="#0a7dd1"/><path d="M1558.5 372.5L1680.5 372.5A4.5 29.5 0 0 1 1680.5 431.5L1558.5 431.5A4.5 29.5 0 0 1 1558.5 372.5Z" fill="url(#shH)"/><path d="M1455 364L1505 358A14 33 0 0 1 1505 424L1455 406A13.5 21 0 0 1 1455 364Z" fill="#0a7dd1"/><path d="M1455 364L1505 358A14 33 0 0 1 1505 424L1455 406A13.5 21 0 0 1 1455 364Z" fill="url(#shH)"/><g transform="rotate(7 1513.6 393.2)"><ellipse cx="1513.6" cy="393.2" rx="31.4" ry="37.4" fill="#eeedf5" stroke="#d9d8e4" stroke-width="0.8"/></g><g transform="rotate(5 1518 394)"><ellipse cx="1517.8" cy="394" rx="18.1" ry="22.3" fill="#f7f6fb" stroke="#dcdbe6" stroke-width="0.8"/><ellipse cx="1520.4" cy="393.7" rx="13.6" ry="16.8" fill="#242426"/><ellipse cx="1520.4" cy="393.9" rx="6.8" ry="9.2" fill="#c9bdd8"/></g><path d="M1749 385.7L1768.8 384.3C1780 386 1786 395 1783.6 402C1782 410 1778 416 1773.7 419.2L1756.5 426Z" fill="#0a7dd1"/><path d="M1749 385.7L1768.8 384.3C1780 386 1786 395 1783.6 402C1782 410 1778 416 1773.7 419.2L1756.5 426Z" fill="url(#shH)"/><path d="M1735 386.2A19.5 22.2 0 0 0 1735 430.6L1756.5 426Q1768 406 1749 385.7Z" fill="#f2f1f7" stroke="#dedde8" stroke-width="0.6"/><g transform="rotate(10 1729.6 409.8)"><ellipse cx="1729.6" cy="409.8" rx="13.7" ry="16.7" fill="#232325"/><ellipse cx="1729.4" cy="410.2" rx="6.3" ry="9.5" fill="#c9bdd8"/></g><path d="M1992 385L1992 398A31.2 4.8 0 0 0 2054.4 398L2054.4 385A31.2 4.8 0 0 0 1992 385Z" fill="#f6f6f6"/><path d="M1992 385L1992 398A31.2 4.8 0 0 0 2054.4 398L2054.4 385A31.2 4.8 0 0 0 1992 385Z" fill="url(#shW)"/><path d="M1994.1 119.2L1994.1 385A29.1 4.8 0 0 0 2052.3 385L2052.3 119.2A29.1 4.8 0 0 0 1994.1 119.2Z" fill="#f3f3f3"/><path d="M1994.1 119.2L1994.1 385A29.1 4.8 0 0 0 2052.3 385L2052.3 119.2A29.1 4.8 0 0 0 1994.1 119.2Z" fill="url(#shW)"/><path d="M1992 111L1992 119.2A31.2 4.8 0 0 0 2054.4 119.2L2054.4 111A31.2 4.8 0 0 0 1992 111Z" fill="#f6f6f6"/><path d="M1992 111L1992 119.2A31.2 4.8 0 0 0 2054.4 119.2L2054.4 111A31.2 4.8 0 0 0 1992 111Z" fill="url(#shW)"/><ellipse cx="2023.2" cy="111" rx="31.2" ry="4.8" fill="#f8f8f8"/><ellipse cx="2023.5" cy="112.6" rx="15.5" ry="4.2" fill="#ffffff"/><ellipse cx="2023.5" cy="111.6" rx="14.7" ry="3.9" fill="#1d1e21"/><ellipse cx="2023.7" cy="111.4" rx="8.5" ry="2.1" fill="#3a3b3f"/><path d="M1923 385L1923 399A34 5 0 0 0 1991 399L1991 385A34 5 0 0 0 1923 385Z" fill="#f6f6f6"/><path d="M1923 385L1923 399A34 5 0 0 0 1991 399L1991 385A34 5 0 0 0 1923 385Z" fill="url(#shW)"/><path d="M1925.6 250.3L1925.6 385A31.4 5 0 0 0 1988.4 385L1988.4 250.3A31.4 5 0 0 0 1925.6 250.3Z" fill="#f3f3f3"/><path d="M1925.6 250.3L1925.6 385A31.4 5 0 0 0 1988.4 385L1988.4 250.3A31.4 5 0 0 0 1925.6 250.3Z" fill="url(#shW)"/><path d="M1923 242.7L1923 250.3A34 5 0 0 0 1991 250.3L1991 242.7A34 5 0 0 0 1923 242.7Z" fill="#f6f6f6"/><path d="M1923 242.7L1923 250.3A34 5 0 0 0 1991 250.3L1991 242.7A34 5 0 0 0 1923 242.7Z" fill="url(#shW)"/><ellipse cx="1957" cy="242.7" rx="34" ry="5" fill="#f8f8f8"/><ellipse cx="1957.3" cy="242.6" rx="16" ry="4.2" fill="#ffffff"/><ellipse cx="1957.3" cy="241.5" rx="15.2" ry="3.9" fill="#1d1e21"/><ellipse cx="1957.3" cy="241.3" rx="8.8" ry="2.1" fill="#3a3b3f"/><path d="M1827 352L1895 352A14 38 0 0 1 1895 428L1827 400A5.5 24 0 0 1 1827 352Z" fill="#f3f3f3"/><path d="M1827 352L1895 352A14 38 0 0 1 1895 428L1827 400A5.5 24 0 0 1 1827 352Z" fill="url(#shWH)"/><g transform="rotate(6 1912.2 390)"><ellipse cx="1912.2" cy="390" rx="32.8" ry="40.8" fill="#ebebeb" stroke="#dcdcdc" stroke-width="1"/><ellipse cx="1915.4" cy="391" rx="17.2" ry="21.2" fill="#fafafa"/><ellipse cx="1915.4" cy="391" rx="15.6" ry="19.7" fill="#1f2023"/><ellipse cx="1915.3" cy="390.5" rx="8.3" ry="11.2" fill="#d2d2d2"/></g><path d="M2090 353L2154 363A6.5 15 0 0 1 2154 393L2090 425A12 36 0 0 1 2090 353Z" fill="#f3f3f3"/><path d="M2090 353L2154 363A6.5 15 0 0 1 2154 393L2090 425A12 36 0 0 1 2090 353Z" fill="url(#shWH)"/><g transform="rotate(-6 2072 389.6)"><ellipse cx="2072" cy="389.6" rx="32.6" ry="41.1" fill="#ebebeb" stroke="#dcdcdc" stroke-width="1"/><ellipse cx="2067.3" cy="390.5" rx="17.2" ry="21.2" fill="#fafafa"/><ellipse cx="2067.3" cy="390.5" rx="15.6" ry="19.6" fill="#1f2023"/><ellipse cx="2067.9" cy="390.5" rx="8.2" ry="11.2" fill="#d2d2d2"/></g><path d="M2318.3 392L2318.3 403A24.8 5 0 0 0 2367.9 403L2367.9 392A24.8 5 0 0 0 2318.3 392Z" fill="#17181a"/><path d="M2318.3 392L2318.3 403A24.8 5 0 0 0 2367.9 403L2367.9 392A24.8 5 0 0 0 2318.3 392Z" fill="url(#shV)"/><path d="M2319.3 111L2319.3 392A23.8 5 0 0 0 2366.9 392L2366.9 111A23.8 5 0 0 0 2319.3 111Z" fill="url(#meshD)"/><path d="M2319.3 111L2319.3 392A23.8 5 0 0 0 2366.9 392L2366.9 111A23.8 5 0 0 0 2319.3 111Z" fill="url(#shV)"/><path d="M2318.3 107L2318.3 111A24.8 5 0 0 0 2367.9 111L2367.9 107A24.8 5 0 0 0 2318.3 107Z" fill="#17181a"/><path d="M2318.3 107L2318.3 111A24.8 5 0 0 0 2367.9 111L2367.9 107A24.8 5 0 0 0 2318.3 107Z" fill="url(#shV)"/><ellipse cx="2343.1" cy="107" rx="24.8" ry="5" fill="#1f2023"/><ellipse cx="2343.1" cy="106.2" rx="9.5" ry="2.2" fill="#0b0b0c"/><path d="M2371 378L2371 389.5A25 5.3 0 0 0 2421 389.5L2421 378A25 5.3 0 0 0 2371 378Z" fill="#17181a"/><path d="M2371 378L2371 389.5A25 5.3 0 0 0 2421 389.5L2421 378A25 5.3 0 0 0 2371 378Z" fill="url(#shV)"/><path d="M2372 100L2372 378A24 5.3 0 0 0 2420 378L2420 100A24 5.3 0 0 0 2372 100Z" fill="url(#meshD)"/><path d="M2372 100L2372 378A24 5.3 0 0 0 2420 378L2420 100A24 5.3 0 0 0 2372 100Z" fill="url(#shV)"/><path d="M2371 98L2371 100A25 5.3 0 0 0 2421 100L2421 98A25 5.3 0 0 0 2371 98Z" fill="#17181a"/><path d="M2371 98L2371 100A25 5.3 0 0 0 2421 100L2421 98A25 5.3 0 0 0 2371 98Z" fill="url(#shV)"/><ellipse cx="2396" cy="98" rx="25" ry="5.3" fill="#1f2023"/><ellipse cx="2396" cy="97.3" rx="9.5" ry="2.2" fill="#0b0b0c"/><path d="M2417.6 395L2417.6 407A24.2 5.7 0 0 0 2466 407L2466 395A24.2 5.7 0 0 0 2417.6 395Z" fill="#17181a"/><path d="M2417.6 395L2417.6 407A24.2 5.7 0 0 0 2466 407L2466 395A24.2 5.7 0 0 0 2417.6 395Z" fill="url(#shV)"/><path d="M2418.9 255L2418.9 395A22.9 5.7 0 0 0 2464.7 395L2464.7 255A22.9 5.7 0 0 0 2418.9 255Z" fill="url(#meshD)"/><path d="M2418.9 255L2418.9 395A22.9 5.7 0 0 0 2464.7 395L2464.7 255A22.9 5.7 0 0 0 2418.9 255Z" fill="url(#shV)"/><path d="M2417.6 253L2417.6 255A24.2 5.7 0 0 0 2466 255L2466 253A24.2 5.7 0 0 0 2417.6 253Z" fill="#17181a"/><path d="M2417.6 253L2417.6 255A24.2 5.7 0 0 0 2466 255L2466 253A24.2 5.7 0 0 0 2417.6 253Z" fill="url(#shV)"/><ellipse cx="2441.8" cy="253" rx="24.2" ry="5.7" fill="#1f2023"/><ellipse cx="2441.8" cy="252.3" rx="9.3" ry="2.4" fill="#0b0b0c"/><path d="M2345.6 411L2345.6 424A23.3 6 0 0 0 2392.2 424L2392.2 411A23.3 6 0 0 0 2345.6 411Z" fill="#17181a"/><path d="M2345.6 411L2345.6 424A23.3 6 0 0 0 2392.2 424L2392.2 411A23.3 6 0 0 0 2345.6 411Z" fill="url(#shV)"/><path d="M2346.2 348L2346.2 411A22.7 6 0 0 0 2391.6 411L2391.6 348A22.7 6 0 0 0 2346.2 348Z" fill="url(#meshD)"/><path d="M2346.2 348L2346.2 411A22.7 6 0 0 0 2391.6 411L2391.6 348A22.7 6 0 0 0 2346.2 348Z" fill="url(#shV)"/><path d="M2345.6 343L2345.6 348A23.3 6 0 0 0 2392.2 348L2392.2 343A23.3 6 0 0 0 2345.6 343Z" fill="#17181a"/><path d="M2345.6 343L2345.6 348A23.3 6 0 0 0 2392.2 348L2392.2 343A23.3 6 0 0 0 2345.6 343Z" fill="url(#shV)"/><ellipse cx="2368.9" cy="343" rx="23.3" ry="6" fill="#1f2023"/><ellipse cx="2368.9" cy="342.3" rx="9.3" ry="2.8" fill="#0b0b0c"/><path d="M2214 374.5L2226 375A7 17.5 0 0 1 2226 410L2214 409.5A7 17.5 0 0 1 2214 374.5Z" fill="#17181a"/><path d="M2214 374.5L2226 375A7 17.5 0 0 1 2226 410L2214 409.5A7 17.5 0 0 1 2214 374.5Z" fill="url(#shH)"/><path d="M2222 375.5L2296 378A12 23.5 0 0 1 2296 425L2222 409.5A6 17 0 0 1 2222 375.5Z" fill="url(#meshD)"/><path d="M2222 375.5L2296 378A12 23.5 0 0 1 2296 425L2222 409.5A6 17 0 0 1 2222 375.5Z" fill="url(#shH)"/><ellipse cx="2306.8" cy="402.4" rx="22.4" ry="28" fill="#141517"/><ellipse cx="2306.8" cy="402.4" rx="22.4" ry="28" fill="url(#faceHi)"/><ellipse cx="2309" cy="403" rx="8.5" ry="12" fill="#0a0a0b"/><path d="M2452 384.7L2461 384.7A5.5 21.9 0 0 1 2461 428.5L2452 428.5A5.5 21.9 0 0 1 2452 384.7Z" fill="#17181a"/><path d="M2452 384.7L2461 384.7A5.5 21.9 0 0 1 2461 428.5L2452 428.5A5.5 21.9 0 0 1 2452 384.7Z" fill="url(#shH)"/><path d="M2458 386.1L2528 386.1A4 20.5 0 0 1 2528 427.1L2458 427.1A4 20.5 0 0 1 2458 386.1Z" fill="url(#meshD)"/><path d="M2458 386.1L2528 386.1A4 20.5 0 0 1 2528 427.1L2458 427.1A4 20.5 0 0 1 2458 386.1Z" fill="url(#shH)"/><path d="M2525 384.7L2530 384.7A4.5 21.9 0 0 1 2530 428.5L2525 428.5A5 21.9 0 0 1 2525 384.7Z" fill="#17181a"/><path d="M2525 384.7L2530 384.7A4.5 21.9 0 0 1 2530 428.5L2525 428.5A5 21.9 0 0 1 2525 384.7Z" fill="url(#shH)"/><path d="M821.70 709.50 L844.70 731.90 L882.90 693.90" fill="none" stroke="#03c21d" stroke-width="10.00" stroke-linecap="round" stroke-linejoin="round"/><path d="M1200.80 709.50 L1223.80 731.90 L1262.00 693.90" fill="none" stroke="#03c21d" stroke-width="10.00" stroke-linecap="round" stroke-linejoin="round"/><path d="M1580.80 709.50 L1603.80 731.90 L1642.00 693.90" fill="none" stroke="#03c21d" stroke-width="10.00" stroke-linecap="round" stroke-linejoin="round"/><path d="M1959.90 709.50 L1982.90 731.90 L2021.10 693.90" fill="none" stroke="#03c21d" stroke-width="10.00" stroke-linecap="round" stroke-linejoin="round"/><path d="M2338.70 709.50 L2361.70 731.90 L2399.90 693.90" fill="none" stroke="#03c21d" stroke-width="10.00" stroke-linecap="round" stroke-linejoin="round"/><path d="M821.70 836.90 L844.70 859.30 L882.90 821.30" fill="none" stroke="#03c21d" stroke-width="10.00" stroke-linecap="round" stroke-linejoin="round"/><path d="M1200.80 836.90 L1223.80 859.30 L1262.00 821.30" fill="none" stroke="#03c21d" stroke-width="10.00" stroke-linecap="round" stroke-linejoin="round"/><path d="M1580.80 836.90 L1603.80 859.30 L1642.00 821.30" fill="none" stroke="#03c21d" stroke-width="10.00" stroke-linecap="round" stroke-linejoin="round"/><path d="M1959.90 836.90 L1982.90 859.30 L2021.10 821.30" fill="none" stroke="#03c21d" stroke-width="10.00" stroke-linecap="round" stroke-linejoin="round"/><path d="M2338.70 836.90 L2361.70 859.30 L2399.90 821.30" fill="none" stroke="#03c21d" stroke-width="10.00" stroke-linecap="round" stroke-linejoin="round"/><path d="M821.70 964.30 L844.70 986.70 L882.90 948.70" fill="none" stroke="#03c21d" stroke-width="10.00" stroke-linecap="round" stroke-linejoin="round"/><path d="M1200.80 964.30 L1223.80 986.70 L1262.00 948.70" fill="none" stroke="#03c21d" stroke-width="10.00" stroke-linecap="round" stroke-linejoin="round"/><path d="M1580.80 964.30 L1603.80 986.70 L1642.00 948.70" fill="none" stroke="#03c21d" stroke-width="10.00" stroke-linecap="round" stroke-linejoin="round"/><path d="M1959.90 964.30 L1982.90 986.70 L2021.10 948.70" fill="none" stroke="#03c21d" stroke-width="10.00" stroke-linecap="round" stroke-linejoin="round"/><path d="M2338.70 964.30 L2361.70 986.70 L2399.90 948.70" fill="none" stroke="#03c21d" stroke-width="10.00" stroke-linecap="round" stroke-linejoin="round"/><path d="M853.00 1071.30 L827.30 1116.30 L879.00 1116.30Z" fill="none" stroke="#fbb800" stroke-width="10.00" stroke-linejoin="round"/><path d="M1200.80 1091.70 L1223.80 1114.10 L1262.00 1076.10" fill="none" stroke="#03c21d" stroke-width="10.00" stroke-linecap="round" stroke-linejoin="round"/><path d="M1612.10 1071.30 L1586.40 1116.30 L1638.10 1116.30Z" fill="none" stroke="#fbb800" stroke-width="10.00" stroke-linejoin="round"/><path d="M1991.20 1071.30 L1965.50 1116.30 L2017.20 1116.30Z" fill="none" stroke="#fbb800" stroke-width="10.00" stroke-linejoin="round"/><path d="M2349.10 1075.20L2388.30 1114.40M2388.30 1075.20L2349.10 1114.40" fill="none" stroke="#fe1a2f" stroke-width="10.00" stroke-linecap="round"/><path d="M821.70 1219.10 L844.70 1241.50 L882.90 1203.50" fill="none" stroke="#03c21d" stroke-width="10.00" stroke-linecap="round" stroke-linejoin="round"/><path d="M1200.80 1219.10 L1223.80 1241.50 L1262.00 1203.50" fill="none" stroke="#03c21d" stroke-width="10.00" stroke-linecap="round" stroke-linejoin="round"/><path d="M1580.80 1219.10 L1603.80 1241.50 L1642.00 1203.50" fill="none" stroke="#03c21d" stroke-width="10.00" stroke-linecap="round" stroke-linejoin="round"/><path d="M1959.90 1219.10 L1982.90 1241.50 L2021.10 1203.50" fill="none" stroke="#03c21d" stroke-width="10.00" stroke-linecap="round" stroke-linejoin="round"/><path d="M2338.70 1219.10 L2361.70 1241.50 L2399.90 1203.50" fill="none" stroke="#03c21d" stroke-width="10.00" stroke-linecap="round" stroke-linejoin="round"/><path d="M853.00 1326.10 L827.30 1371.10 L879.00 1371.10Z" fill="none" stroke="#fbb800" stroke-width="10.00" stroke-linejoin="round"/><path d="M1200.80 1346.50 L1223.80 1368.90 L1262.00 1330.90" fill="none" stroke="#03c21d" stroke-width="10.00" stroke-linecap="round" stroke-linejoin="round"/><path d="M1612.10 1326.10 L1586.40 1371.10 L1638.10 1371.10Z" fill="none" stroke="#fbb800" stroke-width="10.00" stroke-linejoin="round"/><path d="M1991.20 1326.10 L1965.50 1371.10 L2017.20 1371.10Z" fill="none" stroke="#fbb800" stroke-width="10.00" stroke-linejoin="round"/><path d="M2349.10 1330.00L2388.30 1369.20M2388.30 1330.00L2349.10 1369.20" fill="none" stroke="#fe1a2f" stroke-width="10.00" stroke-linecap="round"/><path d="M821.70 1473.90 L844.70 1496.30 L882.90 1458.30" fill="none" stroke="#03c21d" stroke-width="10.00" stroke-linecap="round" stroke-linejoin="round"/><path d="M1200.80 1473.90 L1223.80 1496.30 L1262.00 1458.30" fill="none" stroke="#03c21d" stroke-width="10.00" stroke-linecap="round" stroke-linejoin="round"/><path d="M1580.80 1473.90 L1603.80 1496.30 L1642.00 1458.30" fill="none" stroke="#03c21d" stroke-width="10.00" stroke-linecap="round" stroke-linejoin="round"/><path d="M1959.90 1473.90 L1982.90 1496.30 L2021.10 1458.30" fill="none" stroke="#03c21d" stroke-width="10.00" stroke-linecap="round" stroke-linejoin="round"/><path d="M2370.00 1453.50 L2344.30 1498.50 L2396.00 1498.50Z" fill="none" stroke="#fbb800" stroke-width="10.00" stroke-linejoin="round"/><path d="M853.00 1580.90 L827.30 1625.90 L879.00 1625.90Z" fill="none" stroke="#fbb800" stroke-width="10.00" stroke-linejoin="round"/><path d="M1200.80 1601.30 L1223.80 1623.70 L1262.00 1585.70" fill="none" stroke="#03c21d" stroke-width="10.00" stroke-linecap="round" stroke-linejoin="round"/><path d="M1612.10 1580.90 L1586.40 1625.90 L1638.10 1625.90Z" fill="none" stroke="#fbb800" stroke-width="10.00" stroke-linejoin="round"/><path d="M1991.20 1580.90 L1965.50 1625.90 L2017.20 1625.90Z" fill="none" stroke="#fbb800" stroke-width="10.00" stroke-linejoin="round"/><path d="M2349.10 1584.80L2388.30 1624.00M2388.30 1584.80L2349.10 1624.00" fill="none" stroke="#fe1a2f" stroke-width="10.00" stroke-linecap="round"/><path d="M853.00 1708.30 L827.30 1753.30 L879.00 1753.30Z" fill="none" stroke="#fbb800" stroke-width="10.00" stroke-linejoin="round"/><path d="M1232.10 1708.30 L1206.40 1753.30 L1258.10 1753.30Z" fill="none" stroke="#fbb800" stroke-width="10.00" stroke-linejoin="round"/><path d="M1612.10 1708.30 L1586.40 1753.30 L1638.10 1753.30Z" fill="none" stroke="#fbb800" stroke-width="10.00" stroke-linejoin="round"/><path d="M1991.20 1708.30 L1965.50 1753.30 L2017.20 1753.30Z" fill="none" stroke="#fbb800" stroke-width="10.00" stroke-linejoin="round"/><path d="M2338.70 1728.70 L2361.70 1751.10 L2399.90 1713.10" fill="none" stroke="#03c21d" stroke-width="10.00" stroke-linecap="round" stroke-linejoin="round"/><path d="M744.70 1853.50 L767.70 1875.90 L805.90 1837.90" fill="none" stroke="#03c21d" stroke-width="10.00" stroke-linecap="round" stroke-linejoin="round"/><path d="M824.60 1853.50 L847.60 1875.90 L885.80 1837.90" fill="none" stroke="#03c21d" stroke-width="10.00" stroke-linecap="round" stroke-linejoin="round"/><path d="M899.60 1853.50 L922.60 1875.90 L960.80 1837.90" fill="none" stroke="#03c21d" stroke-width="10.00" stroke-linecap="round" stroke-linejoin="round"/><path d="M1160.70 1853.50 L1183.70 1875.90 L1221.90 1837.90" fill="none" stroke="#03c21d" stroke-width="10.00" stroke-linecap="round" stroke-linejoin="round"/><path d="M1240.70 1853.50 L1263.70 1875.90 L1301.90 1837.90" fill="none" stroke="#03c21d" stroke-width="10.00" stroke-linecap="round" stroke-linejoin="round"/><path d="M1540.70 1853.50 L1563.70 1875.90 L1601.90 1837.90" fill="none" stroke="#03c21d" stroke-width="10.00" stroke-linecap="round" stroke-linejoin="round"/><path d="M1620.50 1853.50 L1643.50 1875.90 L1681.70 1837.90" fill="none" stroke="#03c21d" stroke-width="10.00" stroke-linecap="round" stroke-linejoin="round"/><path d="M1959.90 1853.50 L1982.90 1875.90 L2021.10 1837.90" fill="none" stroke="#03c21d" stroke-width="10.00" stroke-linecap="round" stroke-linejoin="round"/><path d="M2338.70 1853.50 L2361.70 1875.90 L2399.90 1837.90" fill="none" stroke="#03c21d" stroke-width="10.00" stroke-linecap="round" stroke-linejoin="round"/><path d="M54.70 427.40 L77.70 449.80 L115.90 411.80" fill="none" stroke="#03c21d" stroke-width="10.00" stroke-linecap="round" stroke-linejoin="round"/><path d="M85.00 487.50 L59.30 532.50 L111.00 532.50Z" fill="none" stroke="#fbb800" stroke-width="10.00" stroke-linejoin="round"/><path d="M65.90 568.40L105.10 607.60M105.10 568.40L65.90 607.60" fill="none" stroke="#fe1a2f" stroke-width="10.00" stroke-linecap="round"/><path d="M1238.6 2353.6L1238.6 2387L1233.7 2387L1233.7 2361.2L1223.1 2366.8L1223.1 2361.6L1234.6 2353.6Z" fill="#051c41"/></svg>
</body></html>
